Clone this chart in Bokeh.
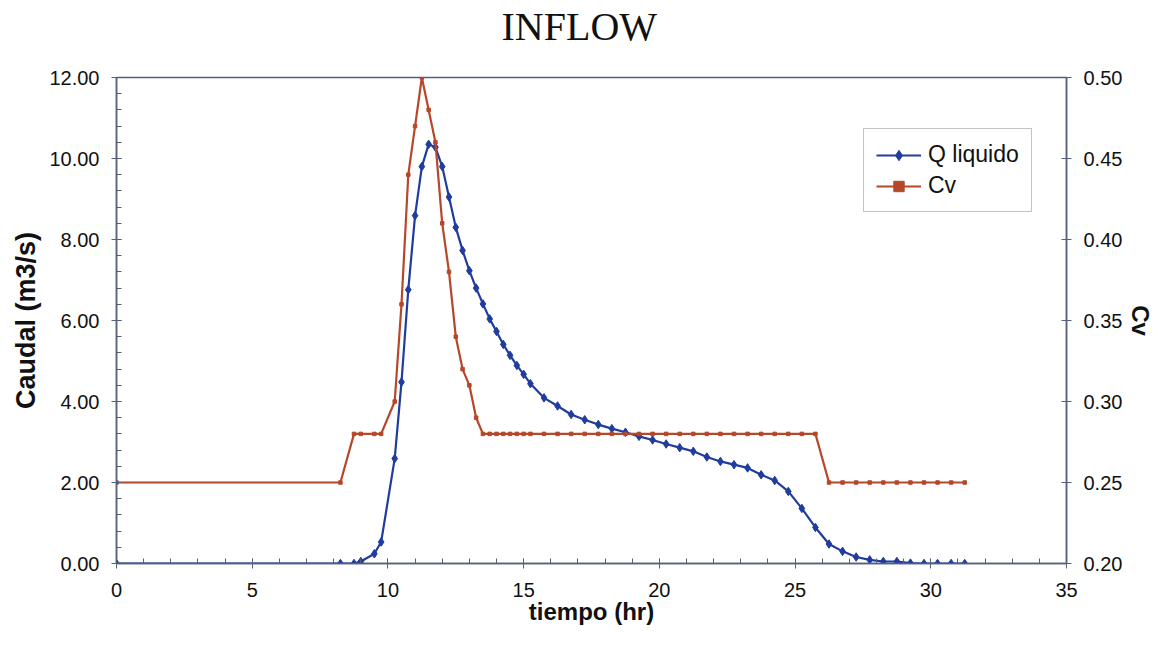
from bokeh.plotting import figure
from bokeh.models import (Range1d, LinearAxis, SingleIntervalTicker, NumeralTickFormatter,
                          Legend, LegendItem, Title)
from bokeh.embed import file_html
from bokeh.resources import INLINE

# ---- data ----
tiempo = [0, 8.25, 8.75, 9.0, 9.5, 9.75, 10.25, 10.5, 10.75, 11.0, 11.25, 11.5, 11.75,
          12.0, 12.25, 12.5, 12.75, 13.0, 13.25, 13.5, 13.75, 14.0, 14.25, 14.5, 14.75,
          15.0, 15.25, 15.75, 16.25, 16.75, 17.25, 17.75, 18.25, 18.75, 19.25, 19.75,
          20.25, 20.75, 21.25, 21.75, 22.25, 22.75, 23.25, 23.75, 24.25, 24.75, 25.25,
          25.75, 26.25, 26.75, 27.25, 27.75, 28.25, 28.75, 29.25, 29.75, 30.25, 30.75, 31.25]
q_liquido = [0, 0, 0, 0.05, 0.24, 0.53, 2.59, 4.48, 6.76, 8.59, 9.80, 10.35, 10.28,
             9.80, 9.05, 8.30, 7.73, 7.23, 6.80, 6.41, 6.04, 5.73, 5.41, 5.14, 4.89,
             4.67, 4.44, 4.09, 3.89, 3.68, 3.55, 3.43, 3.33, 3.24, 3.14, 3.05,
             2.95, 2.86, 2.77, 2.63, 2.52, 2.44, 2.36, 2.19, 2.05, 1.78, 1.36,
             0.89, 0.48, 0.30, 0.16, 0.09, 0.05, 0.05, 0.01, 0, 0, 0, 0]
cv = [0.25, 0.25, 0.28, 0.28, 0.28, 0.28, 0.30, 0.36, 0.44, 0.47, 0.50, 0.48, 0.46,
      0.41, 0.38, 0.34, 0.32, 0.31, 0.29, 0.28, 0.28, 0.28, 0.28, 0.28, 0.28,
      0.28, 0.28, 0.28, 0.28, 0.28, 0.28, 0.28, 0.28, 0.28, 0.28, 0.28,
      0.28, 0.28, 0.28, 0.28, 0.28, 0.28, 0.28, 0.28, 0.28, 0.28, 0.28,
      0.28, 0.25, 0.25, 0.25, 0.25, 0.25, 0.25, 0.25, 0.25, 0.25, 0.25, 0.25]

title_text = "INFLOW"
x_label = "tiempo (hr)"
y_label = "Caudal (m3/s)"
y2_label = "Cv"
series_names = ["Q liquido", "Cv"]

BLUE = "#1f3c9e"
RED = "#b5472b"
AXIS = "#56607a"
SANS = "Liberation Sans"

p = figure(frame_width=950, frame_height=486, output_backend="svg", toolbar_location=None,
           x_range=Range1d(0, 35), y_range=Range1d(0, 12),
           min_border_left=116, min_border_right=86, min_border_top=77, min_border_bottom=72)
p.extra_y_ranges = {"cv": Range1d(0.2, 0.5)}

p.title.text = title_text
p.title.align = "left"
p.title.text_font = "Liberation Serif"
p.title.text_font_style = "normal"
p.title.text_font_size = "40px"
p.title.text_color = "#111111"
p.title.offset = 385
p.title.standoff = 0
# empty spacer between the title and the frame
p.add_layout(Title(text=" ", text_font_size="12px", standoff=13), "above")

p.xgrid.visible = False
p.ygrid.visible = False
p.outline_line_color = AXIS
p.outline_line_width = 1.5
p.background_fill_color = "white"
p.border_fill_color = "white"

# x axis
xa = p.xaxis[0]
xa.ticker = SingleIntervalTicker(interval=5, num_minor_ticks=5)
xa.axis_label = x_label
# y axis
ya = p.yaxis[0]
ya.ticker = SingleIntervalTicker(interval=2, num_minor_ticks=5)
ya.formatter = NumeralTickFormatter(format="0.00")
ya.axis_label = y_label
# right axis
ra = LinearAxis(y_range_name="cv", axis_label=y2_label,
                ticker=SingleIntervalTicker(interval=0.05, num_minor_ticks=0),
                formatter=NumeralTickFormatter(format="0.00"))
p.add_layout(ra, "right")

for ax in [xa, ya, ra]:
    ax.axis_line_color = AXIS
    ax.axis_line_width = 1.5
    ax.major_tick_line_color = AXIS
    ax.minor_tick_line_color = AXIS
    ax.major_tick_in = 5
    ax.major_tick_out = 5
    ax.minor_tick_in = 5
    ax.minor_tick_out = 0
    ax.major_label_text_font = SANS
    ax.major_label_text_font_size = "20px"
    ax.major_label_text_color = "#111111"
    ax.axis_label_text_font = SANS
    ax.axis_label_text_font_style = "bold"
    ax.axis_label_text_color = "#111111"
ra.minor_tick_line_color = None
xa.axis_label_text_font_size = "24px"
ya.axis_label_text_font_size = "27px"
ra.axis_label_text_font_size = "24px"
xa.major_label_standoff = 14
xa.axis_label_standoff = -2
ya.major_label_standoff = 12
ya.axis_label_standoff = 5
ra.major_label_standoff = 12
ra.axis_label_standoff = 2

# series
l1 = p.line(tiempo, q_liquido, line_color=BLUE, line_width=2.2)
s1 = p.scatter(tiempo, q_liquido, marker="diamond", size=8.5, fill_color=BLUE, line_color=BLUE)
l2 = p.line(tiempo, cv, line_color=RED, line_width=2.2, y_range_name="cv")
s2 = p.scatter(tiempo, cv, marker="square", size=3.5, fill_color=RED, line_color=RED,
               y_range_name="cv")

legend = Legend(items=[LegendItem(label=series_names[0], renderers=[l1, s1]),
                       LegendItem(label=series_names[1], renderers=[l2, s2])],
                location=(747, 351))
legend.border_line_color = "#888888"
legend.border_line_width = 1.2
legend.background_fill_alpha = 1
legend.label_text_font = SANS
legend.label_text_font_size = "23px"
legend.label_text_color = "#111111"
legend.glyph_width = 45
legend.glyph_height = 26
legend.label_height = 26
legend.label_standoff = 7
legend.padding = 12
legend.spacing = 4
legend.margin = 0
p.add_layout(legend, "center")

open("out.html", "w").write(file_html(p, INLINE))
